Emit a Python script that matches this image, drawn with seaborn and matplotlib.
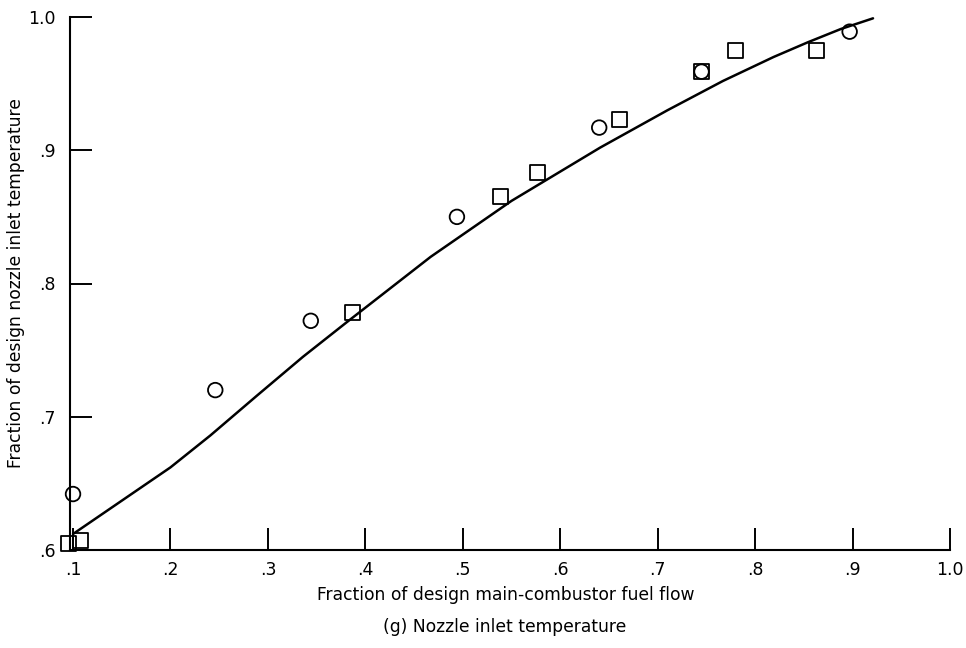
import matplotlib
matplotlib.use("Agg")
import matplotlib.pyplot as plt
import seaborn as sns
import pandas as pd

# Data
circle_x = [0.100, 0.246, 0.344, 0.494, 0.640, 0.745, 0.897]
circle_y = [0.642, 0.720, 0.772, 0.850, 0.917, 0.959, 0.989]
square_x = [0.095, 0.108, 0.387, 0.539, 0.577, 0.661, 0.745, 0.780, 0.863]
square_y = [0.605, 0.607, 0.778, 0.865, 0.883, 0.923, 0.959, 0.975, 0.975]
curve_x = [0.100, 0.148, 0.200, 0.241, 0.289, 0.336, 0.381, 0.467, 0.550,
           0.641, 0.710, 0.767, 0.819, 0.854, 0.888, 0.921]
curve_y = [0.612, 0.636, 0.662, 0.686, 0.716, 0.745, 0.771, 0.820, 0.862,
           0.902, 0.930, 0.952, 0.970, 0.981, 0.991, 0.999]
xticks = [0.1, 0.2, 0.3, 0.4, 0.5, 0.6, 0.7, 0.8, 0.9, 1.0]
xtick_labels = [".1", ".2", ".3", ".4", ".5", ".6", ".7", ".8", ".9", "1.0"]
yticks = [0.6, 0.7, 0.8, 0.9, 1.0]
ytick_labels = [".6", ".7", ".8", ".9", "1.0"]

sns.set_theme(style="white")
plt.rcParams["font.family"] = ["DejaVu Sans"]

fig = plt.figure(figsize=(9.66, 6.48), dpi=100)
ax = fig.add_axes([70/966, 98/648, 880/966, 533/648])

curve = pd.DataFrame({"x": curve_x, "y": curve_y})
circ = pd.DataFrame({"x": circle_x, "y": circle_y})
sq = pd.DataFrame({"x": square_x, "y": square_y})

sns.lineplot(data=curve, x="x", y="y", ax=ax, color="black", linewidth=1.8,
             sort=False, estimator=None)
sns.scatterplot(data=circ, x="x", y="y", ax=ax, marker="o", s=110,
                facecolor="none", edgecolor="black", linewidth=1.3, clip_on=False,
                zorder=3)
sns.scatterplot(data=sq, x="x", y="y", ax=ax, marker="s", s=115,
                facecolor="none", edgecolor="black", linewidth=1.3, clip_on=False,
                zorder=3)

ax.set_xlim(0.0969, 1.0)
ax.set_ylim(0.6, 1.0)
ax.set_xticks(xticks)
ax.set_xticklabels(xtick_labels)
ax.set_yticks(yticks)
ax.set_yticklabels(ytick_labels)
for s in ["top", "right"]:
    ax.spines[s].set_visible(False)
for s in ["left", "bottom"]:
    ax.spines[s].set_color("black")
    ax.spines[s].set_linewidth(1.5)
ax.tick_params(axis="both", which="major", direction="in", length=16, width=1.4,
               colors="black", labelsize=12.5, bottom=True, left=True)
ax.tick_params(axis="x", pad=8)
ax.tick_params(axis="y", pad=10)

ax.set_xlabel("Fraction of design main-combustor fuel flow", fontsize=12.3,
              color="black")
ax.set_ylabel("Fraction of design nozzle inlet temperature", fontsize=12.3,
              color="black")
ax.xaxis.set_label_coords(0.495, -0.068)
ax.yaxis.set_label_coords(-0.051, 0.5)
fig.text(505/966, 1 - 627/648, "(g) Nozzle inlet temperature", ha="center",
         va="center", fontsize=12.3, color="black")

fig.savefig("out.png", dpi=100)
